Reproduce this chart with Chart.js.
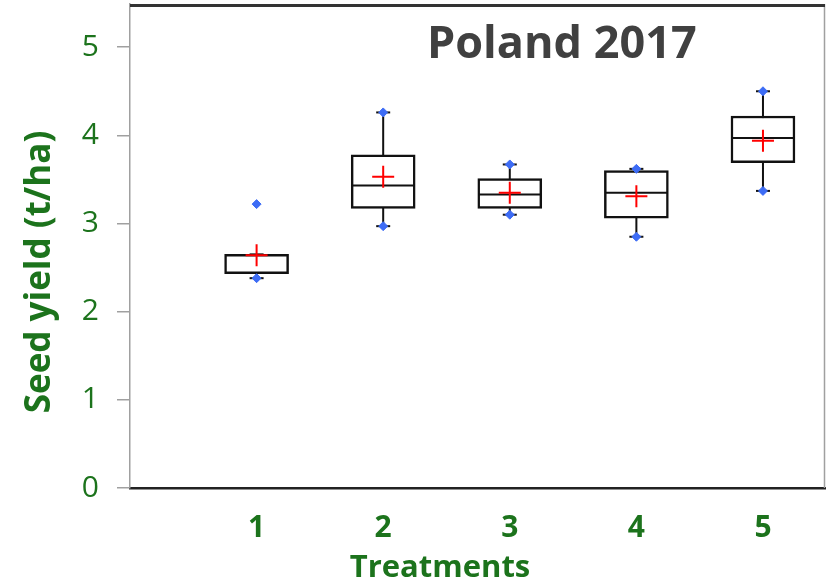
<!DOCTYPE html>
<html>
<head>
<meta charset="utf-8">
<script src="https://cdn.jsdelivr.net/npm/chart.js@4.4.1/dist/chart.umd.min.js"></script>
<style>
  html, body { margin: 0; padding: 0; background: #fff; }
  #wrap { width: 826px; height: 587px; }
</style>
</head>
<body>
<div id="wrap"><canvas id="yieldChart" width="826" height="587"></canvas></div>
<script>
// Seed yield box plots, Poland 2017
const treatments = [1, 2, 3, 4, 5];
const whiskerLow = [2.38, 2.97, 3.10, 2.85, 3.37];
const q1 = [2.43, 3.17, 3.17, 3.06, 3.69];
const median = [2.44, 3.43, 3.33, 3.35, 3.97];
const q3 = [2.65, 3.78, 3.51, 3.60, 4.22];
const whiskerHigh = [2.65, 4.26, 3.67, 3.62, 4.50];
const dataMin = [2.38, 2.97, 3.10, 2.85, 3.37];
const dataMax = [3.22, 4.26, 3.67, 3.62, 4.50];
const means = [2.64, 3.53, 3.35, 3.31, 3.94];
const yTicks = [0, 1, 2, 3, 4, 5];

const green = '#1c731c';
const font = '"Open Sans", "DejaVu Sans", sans-serif';

// whisker line pieces, broken by nulls
const whiskerPts = [];
treatments.forEach((t, i) => {
    whiskerPts.push({x: t, y: whiskerLow[i]});
    whiskerPts.push({x: t, y: whiskerHigh[i]});
    whiskerPts.push({x: t, y: null});
});

const capPts = [];
treatments.forEach((t, i) => {
    capPts.push({x: t, y: whiskerLow[i]});
    capPts.push({x: t, y: whiskerHigh[i]});
});

const extremePts = [];
treatments.forEach((t, i) => {
    extremePts.push({x: t, y: dataMin[i]});
    extremePts.push({x: t, y: dataMax[i]});
});

// frame on top / right and free text
const framePlugin = {
    id: 'frame',
    afterDraw(chart) {
        const c = chart.ctx;
        const a = chart.chartArea;
        c.save();
        c.strokeStyle = '#a0a0a0';
        c.lineWidth = 1.5;
        c.beginPath();
        c.moveTo(a.right - 0.5, a.top);
        c.lineTo(a.right - 0.5, a.bottom);
        c.stroke();
        c.strokeStyle = '#333';
        c.lineWidth = 3;
        c.beginPath();
        c.moveTo(a.left, a.top + 1.5);
        c.lineTo(a.right, a.top + 1.5);
        c.stroke();

        c.fillStyle = '#404040';
        c.font = 'bold 45px ' + font;
        c.textAlign = 'left';
        c.textBaseline = 'alphabetic';
        c.fillText('Poland 2017', 427, 58);

        c.fillStyle = green;
        c.font = 'bold 31px ' + font;
        c.textAlign = 'center';
        c.textBaseline = 'middle';
        c.fillText('Treatments', 440, 568);

        c.font = 'bold 35px ' + font;
        c.translate(40, 272);
        c.rotate(-Math.PI / 2);
        c.fillText('Seed yield (t/ha)', 0, 0);
        c.restore();
    }
};

const ctx = document.getElementById('yieldChart').getContext('2d');
const yieldChart = new Chart(ctx, {
    type: 'bar',
    data: {
        datasets: [
            {
                type: 'line',
                data: whiskerPts,
                borderColor: '#111',
                borderWidth: 2,
                pointRadius: 0,
                spanGaps: false,
                order: 5
            },
            {
                type: 'bar',
                data: treatments.map((t, i) => ({x: t, y: [q1[i], q3[i]]})),
                backgroundColor: '#fff',
                borderColor: '#111',
                borderWidth: 2.5,
                borderSkipped: false,
                barThickness: 64,
                order: 4
            },
            {
                type: 'scatter',
                data: treatments.map((t, i) => ({x: t, y: median[i]})),
                pointStyle: 'line',
                pointRadius: 31,
                borderColor: '#111',
                borderWidth: 2,
                order: 3
            },
            {
                type: 'scatter',
                data: capPts,
                pointStyle: 'line',
                pointRadius: 7,
                borderColor: '#111',
                borderWidth: 2,
                order: 2
            },
            {
                type: 'scatter',
                data: extremePts,
                pointStyle: 'rectRot',
                pointRadius: 4.5,
                backgroundColor: '#3d6cf5',
                borderColor: '#3d6cf5',
                borderWidth: 1,
                order: 1
            },
            {
                type: 'scatter',
                data: treatments.map((t, i) => ({x: t, y: means[i]})),
                pointStyle: 'cross',
                pointRadius: 11,
                borderColor: '#ff0000',
                borderWidth: 2,
                order: 0
            }
        ]
    },
    options: {
        responsive: false,
        animation: false,
        layout: {autoPadding: false, padding: {top: 4, right: 1, left: 0, bottom: 0}},
        plugins: {
            legend: {display: false},
            tooltip: {enabled: false}
        },
        scales: {
            x: {
                type: 'linear',
                min: 0,
                max: 5.49,
                offset: false,
                grid: {display: false},
                border: {color: '#222', width: 2.5},
                ticks: {
                    stepSize: 1,
                    includeBounds: false,
                    padding: 14,
                    color: green,
                    font: {family: font, size: 30, weight: 'bold'},
                    callback: (v) => treatments.includes(v) ? String(v) : ''
                },
                afterFit: (scale) => {
                    scale.height = 99;
                    scale.paddingLeft = 0;
                    scale.paddingRight = 0;
                }
            },
            y: {
                min: 0,
                max: 5.49,
                afterBuildTicks: (scale) => {
                    scale.ticks = yTicks.map(v => ({value: v}));
                },
                grid: {
                    drawOnChartArea: false,
                    color: '#a0a0a0',
                    tickLength: 13,
                    lineWidth: 1.5
                },
                border: {color: '#a0a0a0', width: 1.5},
                ticks: {
                    padding: 18,
                    color: green,
                    font: {family: font, size: 30}
                },
                afterFit: (scale) => {
                    scale.width = 130;
                    scale.paddingTop = 0;
                    scale.paddingBottom = 0;
                }
            }
        }
    },
    plugins: [framePlugin]
});
</script>
</body>
</html>
